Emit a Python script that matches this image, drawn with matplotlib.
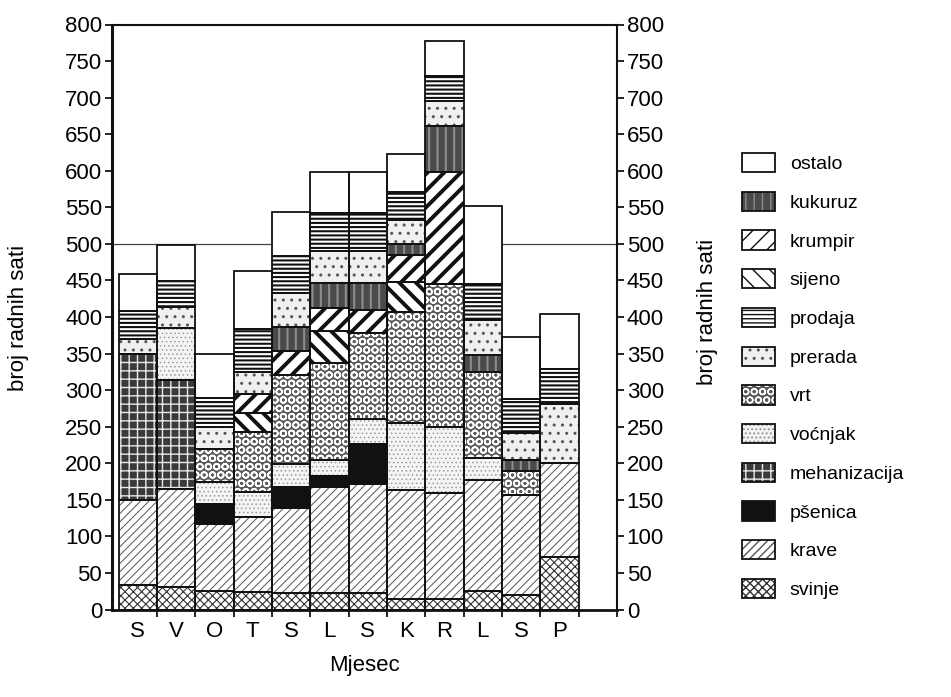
import matplotlib
matplotlib.use("Agg")
import matplotlib.pyplot as plt
import numpy as np
from matplotlib.patches import Patch
from matplotlib.legend_handler import HandlerTuple

plt.rcParams['font.family'] = ['Liberation Sans', 'DejaVu Sans']

# Mjeseci (siječanj ... prosinac)
months = ['S', 'V', 'O', 'T', 'S', 'L', 'S', 'K', 'R', 'L', 'S', 'P']

# Sati rada po aktivnosti i mjesecu
svinje       = [34, 31, 25, 24, 23, 22, 22, 15, 14, 25, 20, 72]
krave        = [116, 134, 92, 103, 116, 145, 150, 149, 146, 152, 136, 129]
psenica      = [0, 0, 27, 0, 29, 16, 54, 0, 0, 0, 0, 0]
mehanizacija = [199, 149, 0, 0, 0, 0, 0, 0, 0, 0, 0, 0]
vocnjak      = [0, 71, 31, 34, 31, 22, 34, 91, 89, 30, 0, 0]
vrt          = [0, 0, 44, 82, 122, 132, 118, 152, 196, 118, 34, 0]
sijeno       = [0, 0, 0, 26, 0, 44, 0, 41, 0, 0, 0, 0]
krumpir      = [0, 0, 0, 26, 33, 31, 32, 37, 153, 0, 0, 0]
kukuruz      = [0, 0, 0, 0, 33, 34, 36, 15, 63, 23, 14, 0]
prerada      = [21, 29, 30, 30, 46, 44, 44, 32, 34, 48, 38, 80]
prodaja      = [38, 35, 40, 59, 51, 52, 52, 39, 34, 49, 46, 48]
ostalo       = [51, 50, 60, 79, 59, 56, 56, 52, 49, 107, 85, 75]

# redoslijed slaganja odozdo prema gore
stack = [
    ('svinje', svinje),
    ('krave', krave),
    ('pšenica', psenica),
    ('mehanizacija', mehanizacija),
    ('voćnjak', vocnjak),
    ('vrt', vrt),
    ('sijeno', sijeno),
    ('krumpir', krumpir),
    ('kukuruz', kukuruz),
    ('prerada', prerada),
    ('prodaja', prodaja),
    ('ostalo', ostalo),
]

# redoslijed u legendi
legend_order = ['ostalo', 'kukuruz', 'krumpir', 'sijeno', 'prodaja', 'prerada',
                'vrt', 'voćnjak', 'mehanizacija', 'pšenica', 'krave', 'svinje']

# ispuna: (boja pozadine, šrafura, boja šrafure, debljina šrafure)
styles = {
    'svinje':       ('white', 'xxxx', '#333333', 0.8),
    'krave':        ('white', '////', '#555555', 0.7),
    'pšenica':      ('#111111', None, '#111111', 1.0),
    'mehanizacija': ('#3a3a3a', '++', '#e8e8e8', 1.0),
    'voćnjak':      ('#f4f4f4', '....', '#9a9a9a', 0.6),
    'vrt':          ('#5a5a5a', 'OO', '#ffffff', 1.2),
    'sijeno':       ('white', '\\\\', '#111111', 2.8),
    'krumpir':      ('white', '//', '#111111', 2.8),
    'kukuruz':      ('#4a4a4a', '||', '#8c8c8c', 1.5),
    'prerada':      ('#f0f0f0', '..', '#555555', 1.0),
    'prodaja':      ('white', '----', '#111111', 1.5),
    'ostalo':       ('white', None, '#111111', 1.0),
}


fig = plt.figure(figsize=(9.51, 6.97), dpi=100)
W, H = 951, 697
ax = fig.add_axes([112 / W, (H - 609.5) / H, (617 - 112) / W, (609.5 - 24.5) / H])

x = np.arange(len(months))
bottom = np.zeros(len(months))
for name, vals in stack:
    vals = np.asarray(vals, dtype=float)
    face, hatch, hcol, hlw = styles[name]
    with plt.rc_context({'hatch.linewidth': hlw}):
        fill = ax.bar(x, vals, width=1.0, bottom=bottom, color=face,
                      edgecolor=hcol, hatch=hatch, linewidth=0, zorder=2)
        for p in fill:
            if hasattr(p, 'set_hatch_linewidth'):
                p.set_hatch_linewidth(hlw)
    ax.bar(x, vals, width=1.0, bottom=bottom, fill=False,
           edgecolor='#111111', linewidth=1.3, zorder=3)
    bottom += vals

# vodoravna crta na 500
ax.axhline(500, color='#444444', lw=0.9, zorder=1)

ax.set_xlim(-0.67, 12.5)
ax.set_ylim(0, 800)
ax.set_yticks(np.arange(0, 801, 50))
ax.set_xticks(x)
ax.set_xticklabels(months)
ax.set_xticks(np.arange(0.5, 12.6, 1.0), minor=True)
ax.tick_params(axis='x', which='major', length=0, labelsize=16, pad=8)
ax.tick_params(axis='x', which='minor', length=5, width=1.2, direction='out')
ax.tick_params(axis='y', which='major', length=5, width=1.2, direction='out',
               labelsize=16, pad=2, left=True, right=True,
               labelleft=True, labelright=True)
for s in ax.spines.values():
    s.set_linewidth(1.5)
    s.set_color('#111111')
ax.spines['left'].set_linewidth(2.2)
ax.spines['bottom'].set_linewidth(2.0)

ax.set_xlabel('Mjesec', fontsize=16, labelpad=10)
fig.text(19 / W, 1 - 318 / H, 'broj radnih sati', rotation=90,
         ha='center', va='center', fontsize=16)
fig.text(708 / W, 1 - 312 / H, 'broj radnih sati', rotation=90,
         ha='center', va='center', fontsize=16)

# legenda
handles = []
for name in legend_order:
    face, hatch, hcol, hlw = styles[name]
    with plt.rc_context({'hatch.linewidth': hlw}):
        h1 = Patch(facecolor=face, edgecolor=hcol, hatch=hatch, linewidth=0)
        if hasattr(h1, 'set_hatch_linewidth'):
            h1.set_hatch_linewidth(hlw)
    h2 = Patch(fill=False, edgecolor='#111111', linewidth=1.3)
    handles.append((h1, h2))

fig.legend(handles, legend_order, loc='upper left',
           bbox_to_anchor=(742 / W, 1 - 153 / H),
           frameon=False, fontsize=14, handlelength=1.7, handleheight=1.15,
           labelspacing=0.95, handletextpad=0.75, borderpad=0, borderaxespad=0,
           handler_map={tuple: HandlerTuple(ndivide=1)})

fig.savefig('out.png', dpi=100)
